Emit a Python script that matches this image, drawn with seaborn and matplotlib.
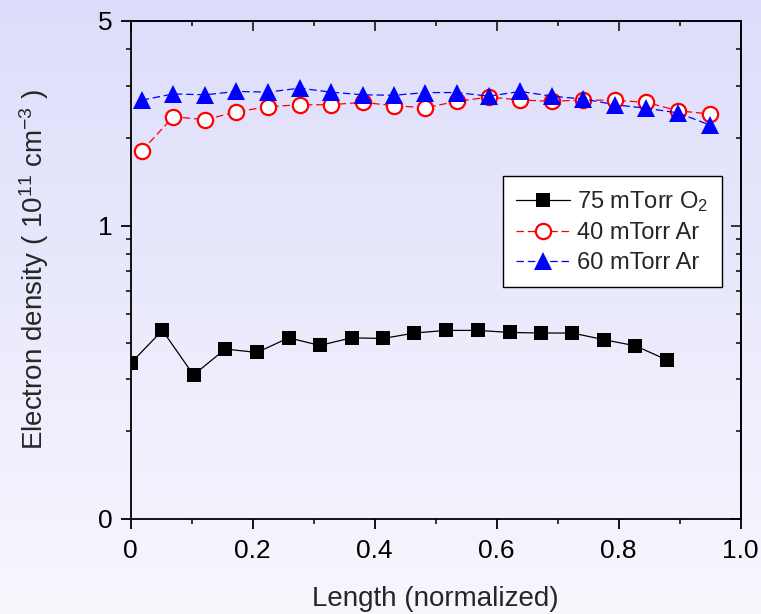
import numpy as np
import pandas as pd
import matplotlib
matplotlib.use("Agg")
import matplotlib.pyplot as plt
import seaborn as sns
from matplotlib.ticker import FixedLocator, FixedFormatter, NullFormatter

# ---------------- data ----------------
x_o2 = [0.000, 0.052, 0.103, 0.155, 0.207, 0.259, 0.310, 0.362, 0.414,
        0.465, 0.517, 0.569, 0.621, 0.672, 0.724, 0.776, 0.827, 0.879]
y_o2 = [0.340, 0.440, 0.310, 0.380, 0.370, 0.415, 0.391, 0.415, 0.413,
        0.431, 0.440, 0.440, 0.433, 0.431, 0.431, 0.409, 0.390, 0.349]

x_ar = [0.018, 0.070, 0.122, 0.173, 0.225, 0.277, 0.328, 0.380, 0.432,
        0.483, 0.535, 0.587, 0.639, 0.690, 0.742, 0.794, 0.845, 0.897, 0.949]
y_ar40 = [1.80, 2.36, 2.30, 2.45, 2.55, 2.59, 2.59, 2.64, 2.57, 2.53,
          2.66, 2.75, 2.69, 2.66, 2.69, 2.68, 2.64, 2.47, 2.41]
y_ar60 = [2.685, 2.82, 2.80, 2.875, 2.86, 2.95, 2.86, 2.80, 2.79, 2.85,
          2.85, 2.77, 2.875, 2.77, 2.71, 2.59, 2.52, 2.43, 2.21]

labels = ["75 mTorr O$_2$", "40 mTorr Ar", "60 mTorr Ar"]
x_ticks = [0, 0.2, 0.4, 0.6, 0.8, 1.0]
x_ticklabels = ["0", "0.2", "0.4", "0.6", "0.8", "1.0"]
y_ticks = [0.1, 1, 5]
y_ticklabels = ["0", "1", "5"]
y_minor = [0.2, 0.3, 0.4, 0.5, 0.6, 0.7, 0.8, 0.9, 2, 3, 4]
x_minor = [0.1, 0.3, 0.5, 0.7, 0.9]

# ---------------- style ----------------
sns.set_style("ticks")
plt.rcParams["font.family"] = ["Liberation Sans", "DejaVu Sans"]
plt.rcParams["mathtext.fontset"] = "custom"
plt.rcParams["mathtext.rm"] = "Liberation Sans"
plt.rcParams["mathtext.it"] = "Liberation Sans:italic"
plt.rcParams["mathtext.bf"] = "Liberation Sans:bold"

W, H = 761, 614
fig = plt.figure(figsize=(W / 100, H / 100), dpi=100)

# gradient background
bg = fig.add_axes([0, 0, 1, 1], zorder=-10)
top = np.array([221, 221, 251]) / 255
bot = np.array([247, 247, 254]) / 255
t = np.linspace(0, 1, 256)[:, None, None]
grad = top * (1 - t) + bot * t
grad = np.repeat(grad, 2, axis=1)
bg.imshow(grad, aspect="auto", extent=[0, 1, 0, 1], origin="upper")
bg.set_axis_off()

L, R, T, B = 130.7, 740.7, 21, 519
ax = fig.add_axes([L / W, 1 - B / H, (R - L) / W, (B - T) / H])
ax.set_facecolor("none")

df_o2 = pd.DataFrame({"x": x_o2, "y": y_o2})
df_40 = pd.DataFrame({"x": x_ar, "y": y_ar40})
df_60 = pd.DataFrame({"x": x_ar, "y": y_ar60})

sns.lineplot(data=df_o2, x="x", y="y", ax=ax, sort=False, estimator=None,
             color="black", lw=0.9, marker="s", markersize=10,
             markeredgewidth=0, markerfacecolor="black", label=labels[0])
sns.lineplot(data=df_40, x="x", y="y", ax=ax, sort=False, estimator=None,
             color="red", lw=0.9, linestyle=(0, (6, 3)), marker="o",
             markersize=11, markeredgewidth=1.6, markerfacecolor="white",
             markeredgecolor="red", label=labels[1])
sns.lineplot(data=df_60, x="x", y="y", ax=ax, sort=False, estimator=None,
             color="blue", lw=0.9, linestyle=(0, (6, 3)), marker="^",
             markersize=13, markeredgewidth=0, markerfacecolor="blue",
             label=labels[2])

ax.set_yscale("log")
ax.set_xlim(0, 1.0)
ax.set_ylim(0.1, 5)

ax.xaxis.set_major_locator(FixedLocator(x_ticks))
ax.xaxis.set_major_formatter(FixedFormatter(x_ticklabels))
ax.xaxis.set_minor_locator(FixedLocator(x_minor))
ax.yaxis.set_major_locator(FixedLocator(y_ticks))
ax.yaxis.set_major_formatter(FixedFormatter(y_ticklabels))
ax.yaxis.set_minor_locator(FixedLocator(y_minor))
ax.yaxis.set_minor_formatter(NullFormatter())

for s in ax.spines.values():
    s.set_linewidth(1.3)
    s.set_color("black")
    s.set_visible(True)

ax.tick_params(axis="both", which="major", direction="out", length=7.2,
               width=1.3, labelsize=19, colors="black",
               top=False, right=False)
ax.tick_params(axis="both", which="minor", direction="out", length=3.6,
               width=1.3, top=False, right=False)
ax.tick_params(axis="x", which="major", pad=7)
ax.tick_params(axis="y", which="major", pad=6)

# inner ticks on top and right
secx = ax.secondary_xaxis("top")
secx.xaxis.set_major_locator(FixedLocator(x_ticks))
secx.xaxis.set_minor_locator(FixedLocator(x_minor))
secx.tick_params(which="major", direction="in", length=7.2, width=1.3,
                 labeltop=False)
secx.tick_params(which="minor", direction="in", length=3.6, width=1.3)
secx.spines["top"].set_linewidth(1.3)

secy = ax.secondary_yaxis("right")
secy.yaxis.set_major_locator(FixedLocator(y_ticks))
secy.yaxis.set_minor_locator(FixedLocator(y_minor))
secy.yaxis.set_minor_formatter(NullFormatter())
secy.tick_params(which="major", direction="in", length=7.2, width=1.3,
                 labelright=False)
secy.tick_params(which="minor", direction="in", length=3.6, width=1.3)
secy.spines["right"].set_linewidth(1.3)

ax.set_xlabel("Length (normalized)", fontsize=20, labelpad=17)
ax.set_ylabel("Electron density ( 10$^{11}$ cm$^{-3}$ )", fontsize=20,
              labelpad=34)

leg = ax.legend(loc="upper right", bbox_to_anchor=(0.969, 0.689),
                borderaxespad=0, fontsize=17, frameon=True, fancybox=False,
                framealpha=1, edgecolor="black", handlelength=2.3,
                handletextpad=0.3, labelspacing=0.35, borderpad=0.55)
leg.get_frame().set_linewidth(1.0)

fig.savefig("out.png", dpi=100)
